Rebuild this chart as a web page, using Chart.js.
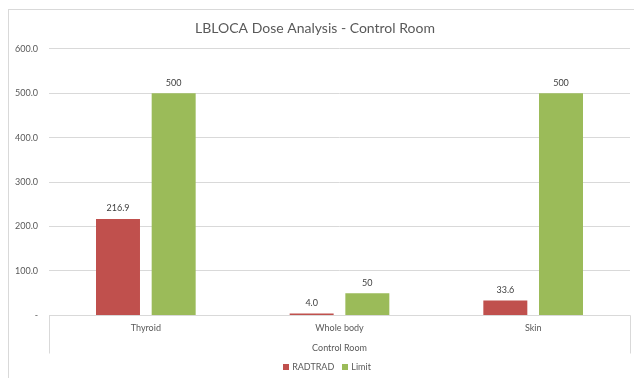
<!DOCTYPE html>
<html><head><meta charset="utf-8">
<script src="https://cdn.jsdelivr.net/npm/chart.js@4/dist/chart.umd.min.js"></script>
<style>html,body{margin:0;padding:0;background:#fff}#wrap{width:634px;height:378px;position:relative}</style>
</head><body><div id="wrap"><canvas id="c" width="634" height="378"></canvas></div>
<script>
const categories = ['Thyroid', 'Whole body', 'Skin'];
const radtrad = [216.9, 4.0, 33.6];
const limit = [500, 50, 500];
const yTicks = [0, 100, 200, 300, 400, 500, 600];
const seriesNames = ['RADTRAD', 'Limit'];

const FONT = 'Lato, "Open Sans", sans-serif';
const TXT = '#595959';

const frame = {
  id: 'frame',
  beforeDraw(chart) {
    const ctx = chart.ctx;
    ctx.save();
    ctx.fillStyle = '#fff';
    ctx.fillRect(0, 0, chart.width, chart.height);
    ctx.strokeStyle = '#d9d9d9';
    ctx.lineWidth = 1;
    ctx.strokeRect(8.5, 9.5, 700, 500);
    ctx.restore();
  },
  afterDraw(chart) {
    const ctx = chart.ctx, a = chart.chartArea;
    ctx.save();
    ctx.strokeStyle = '#d9d9d9';
    ctx.lineWidth = 1;
    ctx.beginPath();
    const y = Math.round(a.bottom) + 0.5;
    ctx.moveTo(Math.round(a.left) + 0.5, y); ctx.lineTo(Math.round(a.right) + 0.5, y);
    ctx.moveTo(Math.round(a.left) + 0.5, y); ctx.lineTo(Math.round(a.left) + 0.5, y + 38);
    ctx.moveTo(Math.round(a.right) + 0.5, y); ctx.lineTo(Math.round(a.right) + 0.5, y + 38);
    ctx.stroke();
    // legend
    ctx.font = '9px ' + FONT;
    ctx.textBaseline = 'middle';
    ctx.textAlign = 'left';
    const box = 6, gapBT = 3, gapItem = 8, cy = 367;
    const items = chart.data.datasets.map(ds => ({ text: ds.label, color: ds.backgroundColor, w: ctx.measureText(ds.label).width }));
    let total = 0;
    items.forEach((it, i) => { total += box + gapBT + it.w + (i < items.length - 1 ? gapItem : 0); });
    let x = 327 - total / 2;
    items.forEach(it => {
      ctx.fillStyle = it.color;
      ctx.fillRect(Math.round(x), cy - box / 2, box, box);
      x += box + gapBT;
      ctx.fillStyle = TXT;
      ctx.fillText(it.text, x, cy);
      x += it.w + gapItem;
    });
    ctx.restore();
  }
};

const dataLabels = {
  id: 'dataLabels',
  afterDatasetsDraw(chart) {
    const ctx = chart.ctx;
    ctx.save();
    ctx.font = '9px ' + FONT;
    ctx.fillStyle = '#404040';
    ctx.textAlign = 'center';
    ctx.textBaseline = 'bottom';
    chart.data.datasets.forEach((ds, i) => {
      chart.getDatasetMeta(i).data.forEach((bar, j) => {
        const v = ds.data[j];
        const s = i === 0 ? v.toFixed(1) : String(v);
        ctx.fillText(s, bar.x, bar.y - 6);
      });
    });
    ctx.restore();
  }
};

new Chart(document.getElementById('c'), {
  type: 'bar',
  data: {
    labels: categories,
    datasets: [
      { label: seriesNames[0], data: radtrad, backgroundColor: '#C0504D' },
      { label: seriesNames[1], data: limit, backgroundColor: '#9BBB59' }
    ]
  },
  options: {
    responsive: false,
    animation: false,
    devicePixelRatio: 1,
    categoryPercentage: 0.575,
    barPercentage: 0.79,
    layout: { padding: { left: 0, right: 4, top: 4, bottom: 22 } },
    plugins: {
      title: {
        display: true,
        text: 'LBLOCA Dose Analysis - Control Room',
        color: TXT,
        font: { family: FONT, size: 14, weight: 'normal' },
        padding: { top: 16, bottom: 12 }
      },
      legend: { display: false },
      tooltip: { enabled: false }
    },
    scales: {
      x: {
        grid: { display: false, drawTicks: false },
        border: { display: false },
        ticks: { color: TXT, font: { family: FONT, size: 9 }, padding: 7 },
        title: { display: true, text: 'Control Room', color: TXT, font: { family: FONT, size: 9 }, padding: { top: 2, bottom: 3 } }
      },
      y: {
        min: 0, max: 600,
        afterBuildTicks(scale) { scale.ticks = yTicks.map(v => ({ value: v })); },
        afterFit(scale) { scale.width = 49; },
        grid: { color: '#d9d9d9', drawTicks: false },
        border: { display: false },
        ticks: {
          color: TXT, font: { family: FONT, size: 9 }, padding: 11,
          callback: v => v === 0 ? '-' : v.toFixed(1)
        }
      }
    }
  },
  plugins: [frame, dataLabels]
});
</script></body></html>
